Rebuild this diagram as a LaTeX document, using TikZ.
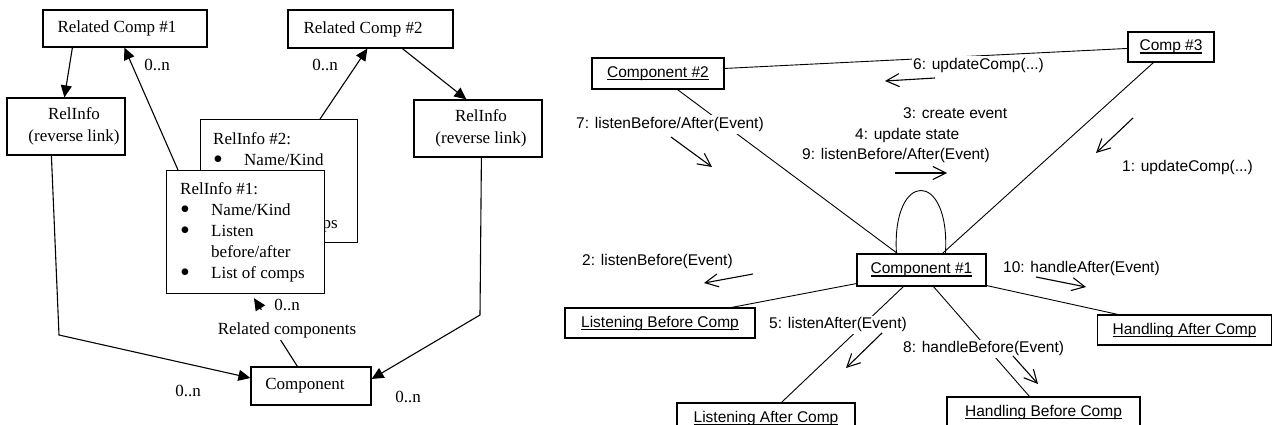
\documentclass[tikz,border=0pt]{standalone}
\usepackage{fontspec}
\setmainfont{Liberation Serif}
\newfontfamily\arialf{Liberation Sans}
\usetikzlibrary{arrows.meta,calc}

% fonts of the two halves
\newcommand{\leftfnt}{\fontsize{17}{22}\selectfont}
\newcommand{\listfnt}{\fontsize{17}{21}\selectfont}
\newcommand{\rightfnt}{\arialf\fontsize{15.5}{18}\selectfont}

% object names are underlined just below the baseline
\newsavebox{\ulbox}
\newcommand{\uln}[1]{\sbox{\ulbox}{#1}\rlap{\rule[-3pt]{\wd\ulbox}{1.5pt}}\usebox{\ulbox}}
% bulleted line of a RelInfo list
\newcommand{\bitem}[1]{\makebox[31pt][l]{\raisebox{-3.2pt}{\scalebox{1.65}{\textbullet}}}#1}

\tikzset{
  lbox/.style={draw, line width=1.2pt, fill=white, inner sep=0pt, font=\leftfnt},
  rbox/.style={draw, line width=1.1pt, fill=white, inner sep=0pt, font=\rightfnt},
  lab/.style={font=\leftfnt, inner sep=1pt},
  msg/.style={font=\rightfnt, anchor=west, inner sep=1.5pt, text height=11.5pt, text depth=3.5pt, fill=white},
  conn/.style={line width=1.1pt},
  rline/.style={line width=0.9pt},
  tri/.style={-{Triangle[length=12pt,width=11pt]}},
  msgarrow/.style={line width=1.1pt, -{Straight Barb[length=13pt,width=13pt]}}
}

\begin{document}
\begin{tikzpicture}[x=1pt,y=-1pt]
\path[use as bounding box] (0,0) rectangle (1273,425);
\clip (0,0) rectangle (1273,425);

% ---------------- component relations (left) ----------------
\node[lbox, minimum width=164pt, minimum height=37pt] (rc1) at (125,28.5) {\hspace*{-16pt}Related Comp \#1};
\node[lbox, minimum width=165pt, minimum height=38pt] (rc2) at (370.5,29) {\hspace*{-15pt}Related Comp \#2};
\node[lbox, minimum width=118pt, minimum height=57pt, align=center] (rir1) at (66,126.5)
  {\hspace*{16pt}RelInfo\\\hspace*{16pt}(reverse link)};
\node[lbox, minimum width=128pt, minimum height=57pt, align=center] (rir2) at (478,128.5)
  {\hspace*{6pt}RelInfo\\\hspace*{6pt}(reverse link)};
\node[lbox, minimum width=120pt, minimum height=38pt] (comp) at (311,386) {\hspace*{-12pt}Component};

% stacked RelInfo records
\node[lbox, minimum width=157pt, minimum height=123pt, anchor=north west] (ri2) at (200,119) {};
\node[font=\listfnt, align=left, anchor=north west, inner sep=0pt] (ri2txt) at (213,132)
  {RelInfo \#2:\\ \bitem{Name/Kind}\\ \bitem{Listen}\\ \hspace*{31pt}before/after\\ \bitem{List of comps}};
\node[lbox, minimum width=158pt, minimum height=123pt, anchor=north west] (ri1) at (166,170) {};
\node[font=\listfnt, align=left, anchor=north west, inner sep=0pt] (ri1txt) at (180,182)
  {RelInfo \#1:\\ \bitem{Name/Kind}\\ \bitem{Listen}\\ \hspace*{31pt}before/after\\ \bitem{List of comps}};

\coordinate (bendL) at (59,335);
\coordinate (bendR) at (480,315);

\draw[conn,tri] ($(rc1.south west)+(30,0)$) -- ($(rir1.north west)+(58,0)$);
\draw[conn,tri] ($(ri1.north west)+(12,0)$) -- ($(rc1.south west)+(82,0)$);
\draw[conn,tri] ($(ri2.north west)+(120,0)$) -- ($(rc2.south west)+(80,0)$);
\draw[conn,tri] ($(rc2.south west)+(115,0)$) -- ($(rir2.north west)+(53,0)$);
\draw[conn,tri] ($(rir1.south west)+(45,0)$) -- (bendL) -- ($(comp.west)+(0,-8)$);
\draw[conn,tri] ($(rir2.south west)+(68,0)$) -- (bendR) -- ($(comp.east)+(0,-7)$);

% component to its related-component records
\coordinate (rcstart) at ($(comp.north west)+(47,0)$);
\coordinate (rctip) at ($(ri1.south west)+(88,4)$);
\coordinate (rchead) at ($(rctip)!0.17!(rcstart)$);
\draw[conn] (rcstart) -- (rctip);
\node[lab, fill=white, align=center, inner sep=2pt, font=\fontsize{17}{24}\selectfont] (rclab) at (287,319)
  {0..n\\Related components};
\draw[conn,tri] (rchead) -- (rctip);

\node[lab] (n1) at (157,65) {0..n};
\node[lab] (n2) at (325,65) {0..n};
\node[lab] (n3) at (188,391) {0..n};
\node[lab] (n4) at (408,397) {0..n};

% ---------------- collaboration (right) ----------------
\node[rbox, minimum width=132pt, minimum height=31pt] (c2) at (658,73.5) {\uln{Component \#2}};
\node[rbox, minimum width=86pt, minimum height=30pt] (c3) at (1171,47) {\uln{Comp \#3}};
\node[rbox, minimum width=129pt, minimum height=32pt] (c1) at (921.5,270) {\uln{Component \#1}};
\node[rbox, minimum width=190pt, minimum height=30pt] (lbc) at (660,323) {\uln{Listening Before Comp}};
\node[rbox, minimum width=178pt, minimum height=30pt] (lac) at (766,418) {\uln{Listening After Comp}};
\node[rbox, minimum width=193pt, minimum height=30pt] (hbc) at (1043.5,412) {\uln{Handling Before Comp}};
\node[rbox, minimum width=174pt, minimum height=30pt] (hac) at (1184.5,330) {\uln{Handling After Comp}};

\draw[rline] ($(c2.north east)+(0,11)$) -- ($(c3.north west)+(0,17)$);
\draw[rline] ($(c2.south west)+(86,0)$) -- ($(c1.north west)+(41,0)$);
\draw[rline] ($(c3.south west)+(26,0)$) -- ($(c1.north west)+(86,0)$);
\draw[rline] ($(c1.south west)+(0,-3)$) -- ($(lbc.north west)+(167,0)$);
\draw[rline] ($(c1.south west)+(47,0)$) -- ($(lac.north west)+(105,0)$);
\draw[rline] ($(c1.south west)+(77,0)$) -- ($(hbc.north west)+(83,0)$);
\draw[rline] ($(c1.south east)+(0,-1)$) -- ($(hac.north west)+(21,0)$);
\draw[rline] ($(c1.north west)+(40,0)$) .. controls +(-5,-84) and +(5,-84) .. ($(c1.north west)+(89,0)$);

% message labels
\node[msg] (m6) at (911.5,65.5) {6: updateComp(...)};
\node[msg] (m7) at (574.5,124.5) {7: listenBefore/After(Event)};
\node[msg] (m3) at (901.5,114.5) {3: create event};
\node[msg] (m4) at (853.5,135.5) {4: update state};
\node[msg] (m9) at (800.5,155.5) {9: listenBefore/After(Event)};
\node[msg] (m1) at (1120.5,167.5) {1: updateComp(...)};
\node[msg] (m2) at (580.5,261.5) {2: listenBefore(Event)};
\node[msg] (m10) at (1001.5,268.5) {10: handleAfter(Event)};
\node[msg] (m5) at (767.5,324.5) {5: listenAfter(Event)};
\node[msg] (m8) at (901.5,348.5) {8: handleBefore(Event)};

% message direction arrows
\coordinate (a6s) at (935,78);   \coordinate (a6e) at (885,81);
\coordinate (a7s) at (671,137);  \coordinate (a7e) at (712,167);
\coordinate (a9s) at (895,173);  \coordinate (a9e) at (947,173);
\coordinate (a1s) at (1133,118); \coordinate (a1e) at (1096,153);
\coordinate (a2s) at (753,274);  \coordinate (a2e) at (704,283);
\coordinate (a10s) at (1036,277); \coordinate (a10e) at (1086,287);
\coordinate (a5s) at (882,333);  \coordinate (a5e) at (846,368);
\coordinate (a8s) at (1013,356); \coordinate (a8e) at (1038,384);
\foreach \m in {6,7,9,1,2,10,5,8}
  \draw[msgarrow] (a\m s) -- (a\m e);
\end{tikzpicture}
\end{document}
